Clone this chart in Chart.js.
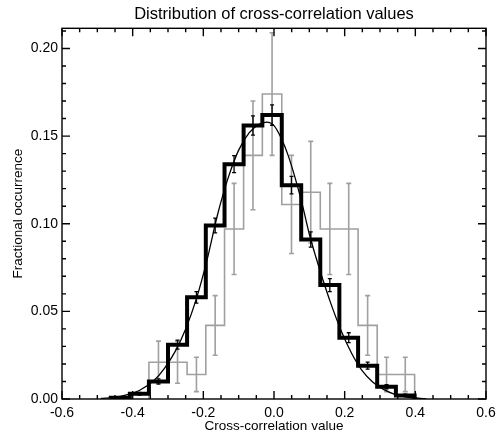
<!DOCTYPE html>
<html>
<head>
<meta charset="utf-8">
<title>Distribution of cross-correlation values</title>
<script src="https://cdn.jsdelivr.net/npm/chart.js@4.4.0/dist/chart.umd.min.js"></script>
<style>
  html, body { margin: 0; padding: 0; background: #fff; }
  canvas { display: block; }
</style>
</head>
<body>
<canvas id="histChart" width="496" height="434"></canvas>
<script>
// bin edges shared by both histograms
const binEdges = [-0.462, -0.408, -0.354, -0.300, -0.246, -0.193, -0.140, -0.086, -0.033,
                  0.022, 0.077, 0.131, 0.185, 0.238, 0.292, 0.345, 0.398];

// thick black histogram (large sample) and its errors
const blackFrac = [0.0007, 0.003, 0.010, 0.031, 0.058, 0.099, 0.134, 0.156, 0.162,
                   0.122, 0.091, 0.065, 0.035, 0.019, 0.007, 0.002];
const blackErr  = [0.0004, 0.0008, 0.0015, 0.0026, 0.0033, 0.0042, 0.0048, 0.0055, 0.0058,
                   0.0050, 0.0043, 0.0037, 0.0028, 0.0020, 0.0012, 0.0007];

// thin grey histogram (small sample) and its errors
const grayFrac = [0, 0, 0.021, 0.021, 0.014, 0.042, 0.097, 0.139, 0.174,
                  0.111, 0.118, 0.097, 0.097, 0.042, 0.014, 0.014];
const grayErr  = [0, 0, 0.012, 0.012, 0.0098, 0.017, 0.026, 0.031, 0.035,
                  0.028, 0.029, 0.026, 0.026, 0.017, 0.0098, 0.0098];

// fitted curve
const fitX = [-0.49, -0.45, -0.42, -0.38, -0.34, -0.31, -0.28, -0.25, -0.22, -0.19, -0.16, -0.13,
              -0.10, -0.07, -0.04, -0.02, 0.00, 0.02, 0.04, 0.06, 0.08, 0.10, 0.12, 0.14,
              0.16, 0.19, 0.22, 0.25, 0.28, 0.31, 0.34, 0.38, 0.43];
const fitY = [0.0003, 0.0009, 0.0022, 0.0050, 0.0105, 0.0175, 0.027, 0.040, 0.057, 0.079, 0.105, 0.126,
              0.142, 0.152, 0.157, 0.158, 0.156, 0.149, 0.139, 0.126, 0.111, 0.094, 0.080, 0.067,
              0.055, 0.039, 0.026, 0.016, 0.0095, 0.0055, 0.0028, 0.0010, 0.0002];

const xTickValues = [-0.6, -0.4, -0.2, 0.0, 0.2, 0.4, 0.6];
const yTickValues = [0.00, 0.05, 0.10, 0.15, 0.20];

function stepPoints(edges, vals) {
  const first = vals.findIndex(v => v > 0);
  const pts = [{x: edges[first], y: 0}];
  for (let i = first; i < vals.length; i++) pts.push({x: edges[i], y: vals[i]});
  pts.push({x: edges[vals.length], y: 0});
  return pts;
}

const FONT = '"Liberation Sans", Arial, Helvetica, sans-serif';
Chart.defaults.font.family = FONT;
Chart.defaults.color = '#000';

// error bars drawn right after their histogram
const errorBars = {
  id: 'errorBars',
  afterDatasetDraw(chart, args) {
    const ds = chart.data.datasets[args.index];
    if (!ds.errVals) return;
    const xs = chart.scales.x, ys = chart.scales.y, ctx = chart.ctx;
    ctx.save();
    ctx.strokeStyle = ds.errColor;
    ctx.lineWidth = ds.errWidth;
    for (let i = 0; i < ds.binVals.length; i++) {
      if (!(ds.errVals[i] > 0)) continue;
      const c = (binEdges[i] + binEdges[i + 1]) / 2;
      const px = xs.getPixelForValue(c);
      const lo = ys.getPixelForValue(ds.binVals[i] - ds.errVals[i]);
      const hi = ys.getPixelForValue(ds.binVals[i] + ds.errVals[i]);
      ctx.beginPath();
      ctx.moveTo(px, lo); ctx.lineTo(px, hi);
      ctx.moveTo(px - ds.capW, lo); ctx.lineTo(px + ds.capW, lo);
      ctx.moveTo(px - ds.capW, hi); ctx.lineTo(px + ds.capW, hi);
      ctx.stroke();
    }
    ctx.restore();
  }
};

// box frame with inward ticks on all four sides
const frameTicks = {
  id: 'frameTicks',
  afterDatasetsDraw(chart) {
    const {ctx, chartArea: a} = chart;
    const xs = chart.scales.x, ys = chart.scales.y;
    ctx.save();
    ctx.strokeStyle = '#000';
    ctx.lineWidth = 1.4;
    ctx.strokeRect(a.left, a.top, a.right - a.left, a.bottom - a.top);
    ctx.beginPath();
    for (let k = 0; k <= 24; k++) {
      const v = -0.6 + k * 0.05;
      const len = (k % 4 === 0) ? 8 : 4;
      const px = xs.getPixelForValue(v);
      ctx.moveTo(px, a.bottom); ctx.lineTo(px, a.bottom - len);
      ctx.moveTo(px, a.top); ctx.lineTo(px, a.top + len);
    }
    for (let k = 0; k <= 21; k++) {
      const v = k * 0.01;
      const len = (k % 5 === 0) ? 8 : 4;
      const py = ys.getPixelForValue(v);
      ctx.moveTo(a.left, py); ctx.lineTo(a.left + len, py);
      ctx.moveTo(a.right, py); ctx.lineTo(a.right - len, py);
    }
    ctx.stroke();
    ctx.restore();
  }
};

const ctx = document.getElementById('histChart').getContext('2d');
const histChart = new Chart(ctx, {
  type: 'line',
  data: {
    datasets: [
      {
        label: 'fit',
        data: fitX.map((x, i) => ({x: x, y: fitY[i]})),
        borderColor: '#000',
        borderWidth: 1.3,
        pointRadius: 0,
        cubicInterpolationMode: 'monotone',
        order: 0
      },
      {
        label: 'all',
        data: stepPoints(binEdges, blackFrac),
        stepped: 'before',
        borderColor: '#000',
        borderWidth: 4,
        pointRadius: 0,
        binVals: blackFrac, errVals: blackErr,
        errColor: '#000', errWidth: 1.3, capW: 2,
        order: 1
      },
      {
        label: 'subset',
        data: stepPoints(binEdges, grayFrac),
        stepped: 'before',
        borderColor: '#a0a0a0',
        borderWidth: 1.6,
        pointRadius: 0,
        binVals: grayFrac, errVals: grayErr,
        errColor: '#a0a0a0', errWidth: 1.6, capW: 2.5,
        order: 2
      }
    ]
  },
  options: {
    responsive: false,
    animation: false,
    devicePixelRatio: 1,
    layout: { padding: { left: 0, right: 10, top: 0, bottom: 0 } },
    plugins: {
      legend: { display: false },
      tooltip: { enabled: false },
      title: {
        display: true,
        text: 'Distribution of cross-correlation values',
        fullSize: false,
        font: { size: 16.5, weight: 'normal' },
        padding: { top: 5, bottom: 3.5 }
      }
    },
    scales: {
      x: {
        type: 'linear',
        min: -0.6, max: 0.6,
        grid: { display: false, drawTicks: false },
        border: { display: false },
        afterBuildTicks: s => { s.ticks = xTickValues.map(v => ({value: v})); },
        afterFit: s => { s.height = 35; s.paddingLeft = 0; s.paddingRight = 0; },
        ticks: {
          font: { size: 14 },
          padding: 6,
          maxRotation: 0,
          callback: v => v.toFixed(1)
        },
        title: {
          display: true,
          text: 'Cross-correlation value',
          font: { size: 13.5 },
          padding: { top: 0, bottom: 0 }
        }
      },
      y: {
        min: 0, max: 0.2115,
        grid: { display: false, drawTicks: false },
        border: { display: false },
        afterBuildTicks: s => { s.ticks = yTickValues.map(v => ({value: v})); },
        afterFit: s => { s.width = 62; s.paddingTop = 0; s.paddingBottom = 0; },
        ticks: {
          font: { size: 14 },
          padding: 4,
          callback: v => v.toFixed(2)
        },
        title: {
          display: true,
          text: 'Fractional occurrence',
          font: { size: 13.5 },
          padding: { top: 10, bottom: 0 }
        }
      }
    }
  },
  plugins: [errorBars, frameTicks]
});
</script>
</body>
</html>
